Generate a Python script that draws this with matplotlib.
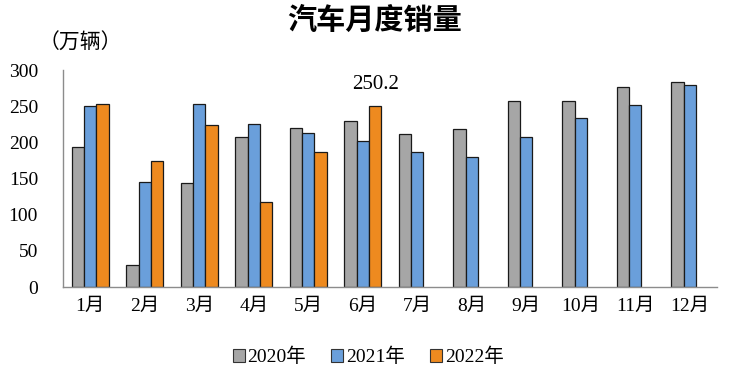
import matplotlib.pyplot as plt
import matplotlib.patches as mpatches
import numpy as np

months = ["1月", "2月", "3月", "4月", "5月", "6月", "7月", "8月", "9月", "10月", "11月", "12月"]
sales_2020 = [194.0, 31.0, 143.4, 207.0, 219.4, 230.1, 211.2, 218.6, 256.5, 257.3, 276.6, 283.1]
sales_2021 = [250.3, 145.5, 252.6, 225.2, 212.8, 201.5, 186.4, 179.9, 206.7, 233.3, 252.2, 278.6]
sales_2022 = [253.1, 173.7, 223.4, 118.1, 186.2, 250.2]
series_names = ["2020年", "2021年", "2022年"]
colors = ["#a6a6a6", "#6a9fdb", "#ee8a1f"]

num_font = ["Liberation Serif", "Noto Sans CJK SC"]
cjk_font = ["Noto Sans CJK SC", "DejaVu Sans"]

fig = plt.figure(figsize=(7.44, 3.70), dpi=100)
ax = fig.add_axes([0.0847, 0.2243, 0.879, 0.5865])

x = np.arange(len(months))
w = 0.228
for i, vals in enumerate([sales_2020, sales_2021, sales_2022]):
    xs = x[:len(vals)] + (i - 1) * w
    ax.bar(xs, vals, width=w, color=colors[i], edgecolor="#1a1a1a", linewidth=0.9)

# data label for June 2022
ax.text(5 + w, 280, "250.2", ha="center", va="center", fontsize=15, family=num_font)

ax.set_xlim(-0.5, 11.5)
ax.set_ylim(0, 300)
ax.set_yticks(range(0, 301, 50))
ax.set_xticks(x)
ax.set_xticklabels(months, family=num_font, fontsize=14)
for lab in ax.get_yticklabels():
    lab.set_family(num_font)
    lab.set_fontsize(14)
ax.tick_params(axis="y", length=0, pad=18)
ax.tick_params(axis="x", length=0, pad=8)

for s in ["top", "right"]:
    ax.spines[s].set_visible(False)
for s in ["left", "bottom"]:
    ax.spines[s].set_color("#8c8c8c")
    ax.spines[s].set_linewidth(1.0)

fig.text(0.503, 0.945, "汽车月度销量", ha="center", va="center", fontsize=21,
         fontweight="bold", family=cjk_font)
fig.text(0.052, 0.885, "（万辆）", ha="left", va="center", fontsize=15, family=cjk_font)

handles = [mpatches.Patch(facecolor=c, edgecolor="#333333", linewidth=0.8) for c in colors]
leg = fig.legend(handles, series_names, loc="center", bbox_to_anchor=(0.495, 0.035),
                 ncol=3, frameon=False, handlelength=0.6, handleheight=0.6,
                 handletextpad=0.15, columnspacing=1.3,
                 prop={"family": num_font, "size": 14})

fig.savefig("out.png", dpi=100)
